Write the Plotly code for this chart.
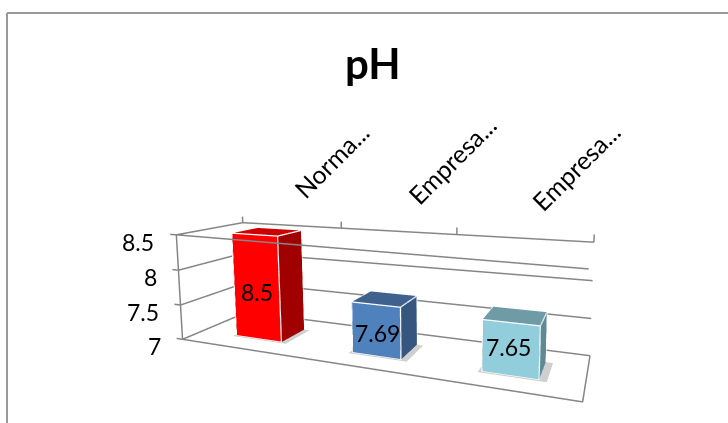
import plotly.graph_objects as go

categories = ["Norma...", "Empresa...", "Empresa..."]
values = [8.5, 7.69, 7.65]
y_ticks = [7, 7.5, 8, 8.5]
y_tick_labels = ["7", "7.5", "8", "8.5"]
front_colors = ["#FF0000", "#4F81BD", "#92CDDC"]
top_colors = ["#CC0000", "#3F618E", "#6F9BA6"]
side_colors = ["#A00000", "#35567F", "#5E8A94"]

# bar footprints along the category axis, in units of the unit box
bar_left = [0.113, 0.459, 0.781]
bar_right = [0.254, 0.586, 0.906]
bar_y0, bar_y1 = 0.286, 0.697

# scene set-up
eye = dict(x=0.0458, y=-0.0908, z=0.0282)
center = dict(x=-0.0370, y=0.1424, z=0.0)
up = dict(x=0.0187, y=0.0, z=1.0)
box = (0.0826, 0.0199, 0.0226)
xr = [-0.7, 2.7]; yr = [-0.2, 1.2]; zr = [6.8, 8.7]
aspect = dict(x=box[0] * (xr[1] - xr[0]) / 3, y=box[1] * (yr[1] - yr[0]), z=box[2] * (zr[1] - zr[0]) / 1.5)
X = lambda u: u * 3 - 0.5
L, R = -0.5, 2.5
GRID = "#868686"
LIGHT = dict(ambient=1, diffuse=0, specular=0, roughness=1, fresnel=0)


def lines(segs, color, width):
    return go.Scatter3d(
        x=[s[0] if s else None for s in segs], y=[s[1] if s else None for s in segs],
        z=[s[2] if s else None for s in segs], mode="lines", line=dict(color=color, width=width),
        hoverinfo="skip", showlegend=False)


fig = go.Figure()
segs = []
for z in y_ticks:
    segs += [(L, 0, z), (L, 1, z), None, (L, 1, z), (R, 1, z), None, (L, 0, z), (L - 0.06, 0, z), None]
segs += [(L, 0, 7), (L, 0, 8.5), None, (L, 0, 7), (R, 0, 7), (R, 1, 7), None]
for xx in [L, L + 1, L + 2, L + 3]:
    segs += [(xx, 1, 8.5), (xx, 1, 8.6), None]
segs += [(L, 0, 8.5), (X(1.003), 0, 7 + 1.5 * 0.960), None]
fig.add_trace(lines(segs, GRID, 3))

for i, v in enumerate(values):
    x0, x1 = X(bar_left[i]), X(bar_right[i])
    y0, y1 = bar_y0, bar_y1
    m = 0.025
    fig.add_trace(go.Mesh3d(x=[x0 - m, x1 + 2 * m, x1 + 2 * m, x0 - m], y=[y0 - m, y0 - m, y1, y1], z=[7, 7, 7, 7],
                            i=[0, 0], j=[1, 2], k=[2, 3], color="#CFCFCF", lighting=LIGHT,
                            hoverinfo="skip", showlegend=False))
    fig.add_trace(go.Mesh3d(
        x=[x0, x1, x1, x0, x0, x1, x1, x0], y=[y0, y0, y1, y1, y0, y0, y1, y1], z=[7, 7, 7, 7, v, v, v, v],
        i=[0, 0, 4, 4, 1, 1, 3, 3, 0, 0, 2, 2], j=[1, 5, 5, 6, 2, 6, 2, 6, 3, 7, 1, 0], k=[5, 4, 6, 7, 6, 5, 6, 7, 7, 4, 0, 3],
        facecolor=[front_colors[i]] * 2 + [top_colors[i]] * 2 + [side_colors[i]] * 8,
        flatshading=True, lighting=LIGHT, hoverinfo="skip", showlegend=False))
    e = [(x0, y0, 7), (x1, y0, 7), (x1, y0, v), (x0, y0, v), (x0, y0, 7), None,
         (x0, y0, v), (x0, y1, v), (x1, y1, v), (x1, y0, v), None, (x1, y1, v), (x1, y1, 7), (x1, y0, 7)]
    fig.add_trace(lines([(s[0], s[1] - 0.002, s[2]) if s else None for s in e], "#FFFFFF", 2.5))

NUM = dict(family="Lato", size=23, color="#000000")
ann = []
for z, t in zip(y_ticks, y_tick_labels):
    ann.append(dict(x=L, y=0, z=z, text=t, showarrow=False, xanchor="right", yanchor="middle",
                    xshift=-20, yshift=-7, font=NUM))
label_dx = [0, 1, -2]
label_dy = [-5, -3, 2]
for i, v in enumerate(values):
    ann.append(dict(x=(X(bar_left[i]) + X(bar_right[i])) / 2, y=bar_y0, z=(7 + v) / 2, text=str(v), showarrow=False,
                    xanchor="center", yanchor="middle", xshift=label_dx[i], yshift=label_dy[i], font=NUM))
cat_dx = [-5, 2, 0]
for i, c in enumerate(categories):
    ann.append(dict(x=i, y=1, z=8.5, text=c, showarrow=False, textangle=-45, xanchor="left", yanchor="bottom",
                    xshift=cat_dx[i], yshift=19, font=dict(family="Lato", size=25, color="#000000")))

border = dict(color="#999999", width=2)
fig.update_layout(
    width=728, height=423, margin=dict(l=0, r=0, t=0, b=0), paper_bgcolor="#FFFFFF", showlegend=False,
    scene=dict(domain=dict(x=[0.2089, 1], y=[0, 1]),
               xaxis=dict(visible=False, range=xr), yaxis=dict(visible=False, range=yr), zaxis=dict(visible=False, range=zr),
               aspectmode="manual", aspectratio=aspect,
               camera=dict(eye=eye, center=center, up=up, projection=dict(type="perspective")),
               annotations=ann, bgcolor="rgba(0,0,0,0)"),
    shapes=[dict(type="line", xref="paper", yref="paper", x0=7 / 728, x1=1, y0=1 - 13 / 423, y1=1 - 13 / 423, line=border),
            dict(type="line", xref="paper", yref="paper", x0=7 / 728, x1=7 / 728, y0=0, y1=1 - 13 / 423, line=border)],
    annotations=[dict(text="<b>pH</b>", x=373 / 728, y=1 - 63 / 423, xref="paper", yref="paper", showarrow=False,
                      xanchor="center", yanchor="middle", font=dict(family="Lato", size=42, color="#000000"))],
)
fig.write_html("out.html", config=dict(displayModeBar=False),
               post_script="document.body.style.margin='0';document.documentElement.style.overflow='hidden';")
